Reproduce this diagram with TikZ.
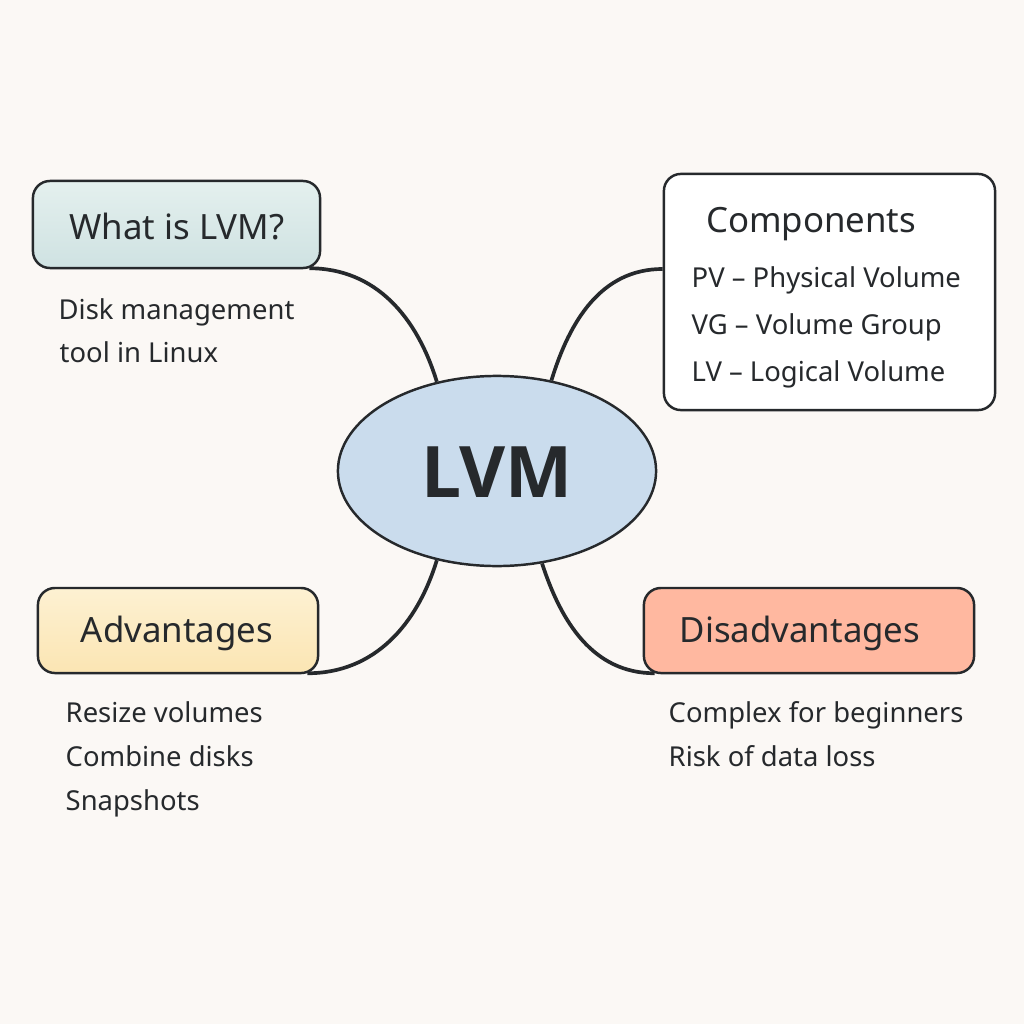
\documentclass[tikz,border=0pt]{standalone}
\usepackage{fontspec}
\setmainfont{Noto Sans}
\newfontfamily\lvmfont{Open Sans}
\usetikzlibrary{backgrounds, shapes.geometric}

\definecolor{paper}{HTML}{FBF8F5}
\definecolor{ink}{HTML}{26292C}
\definecolor{lvmblue}{HTML}{CADCED}
\definecolor{tealtop}{HTML}{E4F0EE}
\definecolor{tealbot}{HTML}{CFE2E2}
\definecolor{sandtop}{HTML}{FDF1D2}
\definecolor{sandbot}{HTML}{FBE5B3}
\definecolor{salmon}{HTML}{FFB8A0}

\tikzset{
  headbox/.style={draw=ink, line width=0.7pt, rounded corners=0.17cm, inner sep=0pt},
  headtext/.style={text=ink, anchor=base, inner sep=0pt, font=\fontsize{9.9}{12}\selectfont},
  bodytext/.style={text=ink, anchor=base west, inner sep=0pt, font=\fontsize{7.8}{10}\selectfont},
  branch/.style={draw=ink, line width=1.05pt},
}

\begin{document}
\begin{tikzpicture}[x=0.01cm, y=-0.01cm]
  \useasboundingbox (0,0) rectangle (1024,1024);

  % Centre
  \node[ellipse, draw=ink, line width=0.7pt, fill=lvmblue, minimum width=3.18cm, minimum height=1.9cm,
        inner sep=0pt] (lvm) at (497,471) {};
  \node[text=ink, anchor=base, inner sep=0pt, font=\lvmfont\fontsize{20.2}{24}\bfseries\selectfont] (lvmtitle) at (497,497) {LVM};

  % Boxes
  \node[headbox, top color=tealtop, bottom color=tealbot, minimum width=2.87cm, minimum height=0.87cm] (whatis) at (176.5,224.5) {};
  \node[headbox, fill=white, minimum width=3.31cm, minimum height=2.36cm] (comp) at (829.5,292) {};
  \node[headbox, top color=sandtop, bottom color=sandbot, minimum width=2.8cm, minimum height=0.85cm] (adv) at (178,630.5) {};
  \node[headbox, fill=salmon, minimum width=3.3cm, minimum height=0.85cm] (dis) at (809,630.5) {};

  % Box titles
  \node[headtext] (whatistitle) at (177,239) {What is LVM?};
  \node[headtext] (comptitle) at (811,232) {Components};
  \node[headtext] (advtitle) at (177,642) {Advantages};
  \node[headtext] (distitle) at (800,642) {Disadvantages};

  % Lists
  \node[bodytext] (disk) at (58,319) {Disk management};
  \node[bodytext] (tool) at (59,362) {tool in Linux};

  \node[bodytext] (pv) at (691,287) {PV – Physical Volume};
  \node[bodytext] (vg) at (691,334) {VG – Volume Group};
  \node[bodytext] (lv) at (691,381) {LV – Logical Volume};

  \node[bodytext] (resize) at (65,722) {Resize volumes};
  \node[bodytext] (combine) at (65,766) {Combine disks};
  \node[bodytext] (snap) at (65,810) {Snapshots};

  \node[bodytext] (complex) at (668,722) {Complex for beginners};
  \node[bodytext] (risk) at (668,766) {Risk of data loss};

  % Branches
  \begin{scope}[on background layer]
    \fill[paper] (0,0) rectangle (1024,1024);
    \draw[branch] ([xshift=-0.12cm, yshift=0.01cm]whatis.south east) to[out=0, in=107] (lvm.124);
    \draw[branch] ([yshift=0.23cm]comp.west) to[out=180, in=73] (lvm.59.5);
    \draw[branch] ([xshift=-0.12cm, yshift=0.01cm]adv.south east) to[out=0, in=253] (lvm.236.5);
    \draw[branch] ([xshift=0.12cm, yshift=0.01cm]dis.south west) to[out=180, in=288] (lvm.296.8);
  \end{scope}
\end{tikzpicture}
\end{document}
